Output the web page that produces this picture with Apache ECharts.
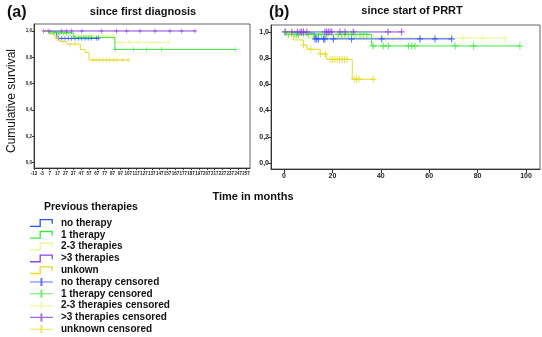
<!DOCTYPE html>
<html>
<head>
<meta charset="utf-8">
<script src="https://cdn.jsdelivr.net/npm/echarts@6/dist/echarts.min.js"></script>
<style>
  html, body { margin: 0; padding: 0; background: #fff; }
  #chart { width: 542px; height: 337px; }
</style>
</head>
<body>
<div id="chart"></div>
<script>
// Kaplan-Meier curves: [month, cumulative survival] at each step
// (a) months since first diagnosis
const diagNoTherapy = [[0, 1], [3, 0.99], [16, 0.944], [69, 0.944]];
const diagOneTherapy = [[0, 1], [2, 0.985], [37, 0.95], [90, 0.86], [243, 0.86]];
const diagTwoThree = [[0, 1], [8, 0.98], [30, 0.962], [90, 0.914], [158, 0.914]];
const diagOverThree = [[0, 1], [192, 1]];
const diagUnknown = [[0, 1], [3, 0.985], [7, 0.97], [14, 0.945], [20, 0.92], [29, 0.9], [46, 0.86], [52, 0.837], [57, 0.78], [107, 0.78]];

// censoring times (months) for (a)
const diagNoTherapyCens = [18, 22.3, 26.5, 30.7, 35, 39.2, 43.4, 47.8, 52, 56, 60.3, 66.7, 69];
const diagOneTherapyCens = [7.4, 11.7, 18, 20.1, 24.4, 28.6, 32.8, 39.2, 45.6, 49.8, 54, 58.3, 91, 113.5, 130.5, 149.6, 243];
const diagTwoThreeCens = [12, 20, 25, 40, 50, 60, 70, 80, 88, 95, 108, 120, 137, 158];
const diagOverThreeCens = [-1, 6, 22, 28, 35, 48, 73, 92, 105, 122, 141, 160, 175, 192];
const diagUnknownCens = [16, 24, 33, 39, 62, 66, 70, 75, 79, 83, 88, 93, 100, 107];

// (b) months since start of PRRT
const prrtNoTherapy = [[0, 1], [1, 0.99], [12.8, 0.947], [69.3, 0.947]];
const prrtOneTherapy = [[0, 1], [1, 0.982], [36.2, 0.893], [97.5, 0.893]];
const prrtTwoThree = [[0, 1], [3, 0.975], [10, 0.952], [91.3, 0.952]];
const prrtOverThree = [[0, 1], [48.6, 1]];
const prrtUnknown = [[0, 1], [2, 0.99], [3, 0.965], [3.9, 0.939], [8, 0.9], [9.4, 0.868], [14.9, 0.832], [17.6, 0.79], [28.2, 0.639], [36.9, 0.639]];

// censoring times (months) for (b)
const prrtNoTherapyCens = [12.8, 13.5, 14.2, 16.3, 16.9, 20.4, 27.9, 40.4, 56.2, 62.4, 69.3];
const prrtOneTherapyCens = [0.4, 1.8, 4.5, 5.2, 5.9, 10, 12.1, 14.2, 15.6, 17.6, 22.4, 23.8, 25.2, 26.6, 27.9, 29.3, 31.4, 32.8, 34.2, 36.8, 41, 43.1, 51.4, 52.8, 54.1, 70.7, 78.3, 97.5];
const prrtTwoThreeCens = [1, 2, 6, 8, 12, 18, 20, 22, 24, 26, 30, 32, 34, 38, 40, 42, 45, 48, 52, 56, 62, 68, 74, 82, 91.3];
const prrtOverThreeCens = [0.4, 3.2, 5.5, 6.6, 7.3, 8, 9.4, 16.9, 17.6, 18.3, 19, 19.7, 23.1, 25.2, 28.6, 43, 48.6];
const prrtUnknownCens = [8, 11, 15, 17, 19, 20, 21, 22, 23, 24, 25, 26, 29, 30, 31, 36.9];

// axis ticks
const diagTicks = [-13, -3, 7, 17, 27, 37, 47, 57, 67, 77, 87, 97, 107, 117, 127, 137, 147, 157, 167, 177, 187, 197, 207, 217, 227, 237, 247, 257];
const prrtTicks = [0, 20, 40, 60, 80, 100];
const survivalTicks = [0, 0.2, 0.4, 0.6, 0.8, 1.0];

const groupNames = ['no therapy', '1 therapy', '2-3 therapies', '>3 therapies', 'unkown'];
const censNames = ['no therapy censored', '1 therapy censored', '2-3 therapies censored', '>3 therapies censored', 'unknown censored'];
const groupColors = ['#2a52ff', '#3ee83e', '#eef590', '#8a44ea', '#e6dc2a'];

const FONT = "'Liberation Sans', Arial, sans-serif";

// survival value of a step curve at time t
function survAt(curve, t) {
  let s = curve[0][1];
  for (const p of curve) { if (p[0] <= t) s = p[1]; }
  return s;
}

const plusPath = 'path://M-0.18,-1H0.18V-0.18H1V0.18H0.18V1H-0.18V0.18H-1V-0.18H-0.18Z';
const stepIcon = 'path://M0,7H10V0H24V5H22.6V1.4H11.4V8.4H0Z';
const censIcon = 'path://M0,3.6H11V0H13V3.6H24V4.8H13V8.4H11V4.8H0Z';

const panels = [
  { curves: [diagNoTherapy, diagOneTherapy, diagTwoThree, diagOverThree, diagUnknown],
    cens: [diagNoTherapyCens, diagOneTherapyCens, diagTwoThreeCens, diagOverThreeCens, diagUnknownCens],
    mark: [4, 5] },
  { curves: [prrtNoTherapy, prrtOneTherapy, prrtTwoThree, prrtOverThree, prrtUnknown],
    cens: [prrtNoTherapyCens, prrtOneTherapyCens, prrtTwoThreeCens, prrtOverThreeCens, prrtUnknownCens],
    mark: [6, 7] }
];

const series = [];
panels.forEach((panel, pi) => {
  panel.curves.forEach((curve, gi) => {
    series.push({
      name: groupNames[gi], type: 'line', step: 'end',
      xAxisIndex: pi, yAxisIndex: pi,
      data: curve, showSymbol: false, silent: true,
      color: groupColors[gi],
      lineStyle: { width: 1, color: groupColors[gi] },
      z: gi === 2 ? 1 : 2
    });
  });
  panel.cens.forEach((times, gi) => {
    const curve = panel.curves[gi];
    series.push({
      name: censNames[gi], type: 'scatter',
      xAxisIndex: pi, yAxisIndex: pi,
      data: times.map(t => [t, survAt(curve, t)]),
      symbol: plusPath, symbolSize: panel.mark, silent: true,
      color: groupColors[gi],
      itemStyle: { color: groupColors[gi] },
      z: gi === 2 ? 1 : 3
    });
  });
});

const pct = v => v.toFixed(1).replace('.', ',');

const chart = echarts.init(document.getElementById('chart'), null, { renderer: 'canvas' });
chart.setOption({
  animation: false,
  backgroundColor: '#fff',
  textStyle: { fontFamily: FONT },
  title: [
    { text: '(a)', left: 2, top: 0, textStyle: { fontSize: 16, fontWeight: 'bold', color: '#111', fontFamily: FONT } },
    { text: 'since first diagnosis', left: 138, top: 1, textAlign: 'center', textStyle: { fontSize: 11, fontWeight: 'bold', color: '#111', fontFamily: FONT } },
    { text: '(b)', left: 264, top: 0, textStyle: { fontSize: 16, fontWeight: 'bold', color: '#111', fontFamily: FONT } },
    { text: 'since start of PRRT', left: 407, top: 0, textAlign: 'center', textStyle: { fontSize: 11, fontWeight: 'bold', color: '#111', fontFamily: FONT } },
    { text: 'Time in months', left: 248, top: 186, textAlign: 'center', textStyle: { fontSize: 11, fontWeight: 'bold', color: '#111', fontFamily: FONT } },
    { text: 'Previous therapies', left: 39, top: 197, textStyle: { fontSize: 10.5, fontWeight: 'bold', color: '#111', fontFamily: FONT } }
  ],
  graphic: [
    { type: 'text', x: 12, y: 101, rotation: Math.PI / 2,
      style: { text: 'Cumulative survival', fontSize: 12, fontFamily: FONT, fill: '#111', align: 'center', verticalAlign: 'middle' } }
  ],
  grid: [
    { left: 34, top: 24, width: 216, height: 144, show: true, borderColor: '#666', borderWidth: 1, backgroundColor: '#fff' },
    { left: 271, top: 25, width: 269, height: 144, show: true, borderColor: '#666', borderWidth: 1, backgroundColor: '#fff' }
  ],
  xAxis: [
    { type: 'value', gridIndex: 0, min: -13, max: 262,
      axisLine: { onZero: false, lineStyle: { color: '#333' } },
      axisTick: { show: true, length: 2, customValues: diagTicks, lineStyle: { color: '#333' } },
      axisLabel: { customValues: diagTicks, fontSize: 4.5, color: '#222', margin: 3, fontFamily: FONT, fontWeight: 'bold' },
      splitLine: { show: false } },
    { type: 'value', gridIndex: 1, min: -5.4, max: 105.8,
      axisLine: { onZero: false, lineStyle: { color: '#333' } },
      axisTick: { show: true, length: 4, customValues: prrtTicks, lineStyle: { color: '#333' } },
      axisLabel: { customValues: prrtTicks, fontSize: 7, color: '#222', margin: 4, fontFamily: FONT, fontWeight: 'bold' },
      splitLine: { show: false } }
  ],
  yAxis: [
    { type: 'value', gridIndex: 0, min: -0.04, max: 1.053,
      axisLine: { show: true, onZero: false, lineStyle: { color: '#333' } },
      axisTick: { show: true, length: 2, customValues: survivalTicks, lineStyle: { color: '#333' } },
      axisLabel: { customValues: survivalTicks, formatter: pct, fontSize: 4.5, color: '#222', margin: 2, fontFamily: FONT, fontWeight: 'bold' },
      splitLine: { show: false } },
    { type: 'value', gridIndex: 1, min: -0.046, max: 1.053,
      axisLine: { show: true, onZero: false, lineStyle: { color: '#333' } },
      axisTick: { show: true, length: 3, customValues: survivalTicks, lineStyle: { color: '#333' } },
      axisLabel: { customValues: survivalTicks, formatter: pct, fontSize: 7, color: '#222', margin: 2, fontFamily: FONT, fontWeight: 'bold' },
      splitLine: { show: false } }
  ],
  legend: {
    orient: 'vertical', left: 30, top: 218, height: 130, padding: 0,
    itemWidth: 23, itemHeight: 8, itemGap: 1.8,
    selectedMode: false,
    textStyle: { fontSize: 10, fontWeight: 'bold', color: '#111', fontFamily: FONT, lineHeight: 10, padding: [0, 0, 0, 3] },
    data: groupNames.map(n => ({ name: n, icon: stepIcon }))
      .concat(censNames.map(n => ({ name: n, icon: censIcon })))
  },
  series: series
});
</script>
</body>
</html>
